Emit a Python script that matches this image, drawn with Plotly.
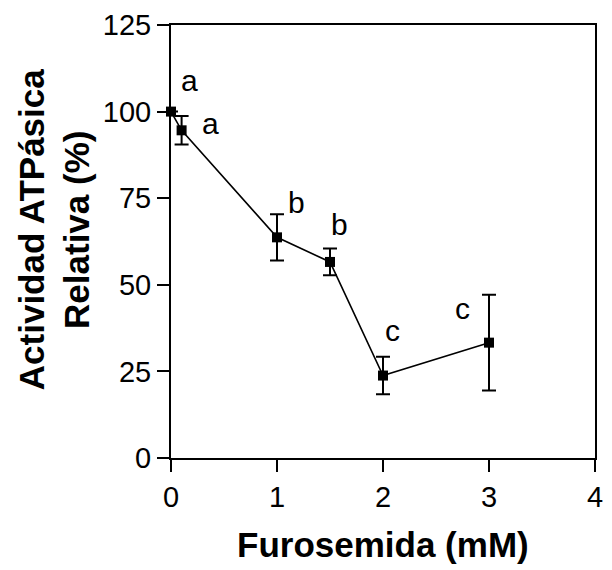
import plotly.graph_objects as go

# Furosemide concentration (mM) and relative ATPase activity (%)
furosemida = [0, 0.1, 1, 1.5, 2, 3]
actividad = [100, 94.6, 63.7, 56.6, 23.8, 33.3]
error = [0, 4.1, 6.7, 3.85, 5.4, 13.8]

# Significance letters and their positions
letras = ["a", "a", "b", "b", "c", "c"]
letras_x = [0.17, 0.368, 1.185, 1.59, 2.086, 2.747]
letras_y = [109.0, 96.5, 73.8, 67.4, 36.8, 43.2]

x_ticks = [0, 1, 2, 3, 4]
y_ticks = [0, 25, 50, 75, 100, 125]

FONT = "Liberation Sans, Arial, sans-serif"

fig = go.Figure()
fig.add_trace(go.Scatter(
    x=furosemida, y=actividad,
    mode="lines+markers",
    line=dict(color="black", width=1.6),
    marker=dict(symbol="square", size=10, color="black"),
    error_y=dict(type="data", array=error, visible=True,
                 color="black", thickness=2, width=7),
    cliponaxis=False,
    showlegend=False,
))

for t, x, y in zip(letras, letras_x, letras_y):
    fig.add_annotation(x=x, y=y, text=t, showarrow=False,
                       xanchor="center", yanchor="middle",
                       font=dict(family=FONT, size=30, color="black"))

fig.add_annotation(
    xref="paper", yref="paper", x=-0.275, y=0.527,
    text="<b>Actividad ATPásica<br>Relativa (%)</b>",
    textangle=-90, showarrow=False, xanchor="center", yanchor="middle",
    font=dict(family=FONT, size=35, color="black"),
)
fig.add_annotation(
    xref="paper", yref="paper", x=0.5, y=-0.2,
    text="<b>Furosemida (mM)</b>",
    showarrow=False, xanchor="center", yanchor="middle",
    font=dict(family=FONT, size=35, color="black"),
)

axis_common = dict(
    showline=True, linecolor="black", linewidth=2, mirror=True,
    ticks="outside", ticklen=12, tickwidth=2, tickcolor="black",
    showgrid=False, zeroline=False,
    tickfont=dict(family=FONT, size=29, color="black"),
)

fig.update_xaxes(range=[0, 4], tickvals=x_ticks, **axis_common)
fig.update_yaxes(range=[0, 125], tickvals=y_ticks, **axis_common)

fig.update_layout(
    width=612, height=570,
    margin=dict(l=171, r=9, t=21, b=112),
    plot_bgcolor="white", paper_bgcolor="white",
    font=dict(family=FONT, color="black"),
)

fig.write_html("out.html")
